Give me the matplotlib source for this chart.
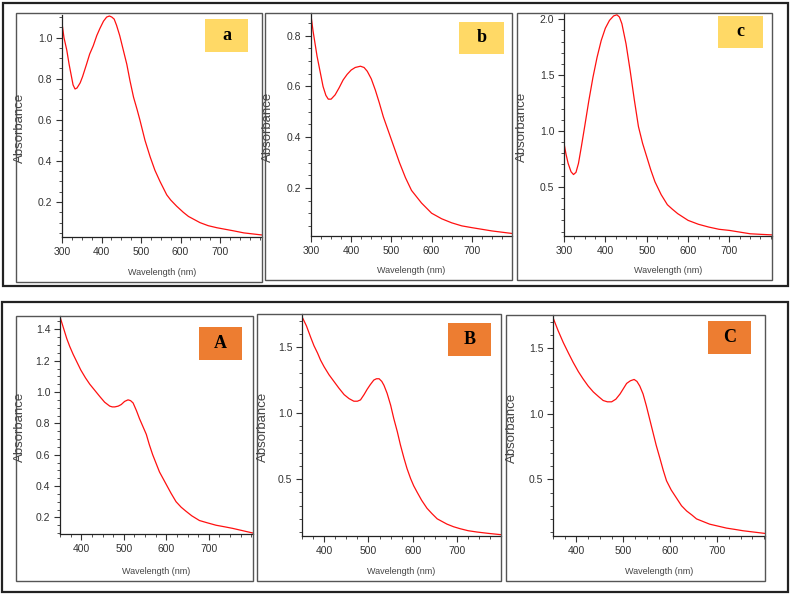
import numpy as np
import matplotlib.pyplot as plt
from matplotlib.patches import Rectangle
from matplotlib.ticker import MultipleLocator

# Data
wl_a = [300, 305, 312, 318, 324, 328, 333, 338, 346, 352, 362, 370, 379, 388, 396, 405, 413, 420, 426, 432,
        438, 446, 455, 464, 472, 481, 490, 497, 510, 523, 535, 548, 565, 575, 590, 607, 620, 649, 670, 692,
        734, 760, 805]
abs_a = [1.07, 1.00, 0.94, 0.87, 0.81, 0.77, 0.75, 0.755, 0.78, 0.81, 0.87, 0.92, 0.96, 1.01, 1.045, 1.08,
         1.10, 1.105, 1.10, 1.09, 1.06, 1.01, 0.94, 0.87, 0.79, 0.71, 0.65, 0.60, 0.50, 0.42, 0.355, 0.30,
         0.235, 0.21, 0.18, 0.15, 0.13, 0.10, 0.085, 0.075, 0.06, 0.05, 0.04]

wl_b = [300, 305, 310, 315, 320, 330, 337, 343, 350, 360, 370, 380, 390, 400, 410, 423, 432, 440, 450, 460,
        470, 480, 490, 500, 510, 520, 535, 550, 575, 600, 625, 650, 675, 700, 750, 800]
abs_b = [0.88, 0.82, 0.77, 0.72, 0.68, 0.60, 0.565, 0.55, 0.55, 0.567, 0.595, 0.626, 0.648, 0.665, 0.675,
         0.68, 0.675, 0.66, 0.63, 0.586, 0.535, 0.48, 0.435, 0.39, 0.345, 0.30, 0.24, 0.19, 0.14, 0.10,
         0.078, 0.062, 0.05, 0.043, 0.03, 0.02]

wl_c = [300, 305, 310, 317, 323, 329, 335, 342, 350, 360, 370, 380, 390, 400, 410, 420, 428, 434, 440, 450,
        460, 470, 480, 490, 500, 510, 520, 535, 550, 562, 575, 600, 625, 650, 675, 700, 725, 750, 775, 803]
abs_c = [0.89, 0.79, 0.71, 0.635, 0.61, 0.63, 0.71, 0.86, 1.04, 1.27, 1.48, 1.66, 1.81, 1.92, 1.99, 2.03,
         2.04, 2.02, 1.96, 1.78, 1.54, 1.28, 1.04, 0.89, 0.77, 0.65, 0.545, 0.43, 0.34, 0.30, 0.26, 0.20,
         0.165, 0.14, 0.12, 0.11, 0.095, 0.08, 0.075, 0.07]

wl_A = [350, 358, 366, 373, 381, 390, 399, 410, 420, 432, 444, 455, 467, 473, 479, 487, 494, 502, 510, 516,
        522, 530, 537, 545, 553, 560, 568, 576, 584, 592, 600, 611, 623, 635, 646, 660, 678, 697, 717, 737,
        756, 780, 804]
abs_A = [1.48, 1.41, 1.34, 1.29, 1.24, 1.19, 1.14, 1.09, 1.05, 1.01, 0.97, 0.935, 0.91, 0.905, 0.905, 0.91,
         0.92, 0.94, 0.95, 0.945, 0.93, 0.88, 0.83, 0.78, 0.73, 0.665, 0.60, 0.545, 0.49, 0.45, 0.41, 0.355,
         0.30, 0.265, 0.24, 0.21, 0.18, 0.165, 0.15, 0.14, 0.13, 0.115, 0.10]

wl_B = [350, 360, 370, 377, 385, 392, 400, 411, 422, 433, 445, 456, 467, 475, 482, 490, 497, 504, 512, 518,
        524, 530, 535, 542, 550, 557, 565, 572, 580, 587, 595, 602, 610, 620, 632, 643, 655, 666, 677, 692,
        707, 725, 745, 770, 799]
abs_B = [1.73, 1.66, 1.57, 1.51, 1.455, 1.40, 1.35, 1.29, 1.24, 1.19, 1.14, 1.11, 1.09, 1.09, 1.10, 1.14,
         1.18, 1.215, 1.25, 1.26, 1.26, 1.24, 1.21, 1.15, 1.06, 0.96, 0.86, 0.76, 0.66, 0.58, 0.505, 0.45,
         0.40, 0.34, 0.28, 0.24, 0.20, 0.18, 0.16, 0.14, 0.125, 0.11, 0.10, 0.09, 0.08]

wl_C = [350, 361, 372, 383, 393, 404, 414, 425, 436, 447, 457, 466, 475, 484, 493, 500, 507, 515, 523, 529,
        535, 542, 549, 556, 563, 570, 578, 585, 592, 602, 613, 624, 635, 646, 656, 670, 684, 702, 720, 738,
        755, 778, 801]
abs_C = [1.73, 1.63, 1.54, 1.46, 1.39, 1.32, 1.265, 1.21, 1.165, 1.13, 1.10, 1.09, 1.09, 1.11, 1.15, 1.19,
         1.23, 1.25, 1.26, 1.245, 1.21, 1.15, 1.06, 0.96, 0.86, 0.76, 0.66, 0.57, 0.49, 0.42, 0.36, 0.30,
         0.26, 0.23, 0.20, 0.18, 0.16, 0.145, 0.13, 0.12, 0.11, 0.10, 0.09]

panel_letters = ['a', 'b', 'c', 'A', 'B', 'C']

W, H = 791, 595
fig = plt.figure(figsize=(W / 100, H / 100), dpi=100)
fig.patch.set_facecolor('white')

narrow = ['Liberation Sans Narrow', 'Liberation Sans', 'DejaVu Sans']


def frac(x0, y0, x1, y1):
    return [x0 / W, 1 - y1 / H, (x1 - x0) / W, (y1 - y0) / H]


def box(x0, y0, x1, y1, ec, lw, fc='none', z=0):
    l, b, w, h = frac(x0, y0, x1, y1)
    fig.add_artist(Rectangle((l, b), w, h, transform=fig.transFigure,
                             facecolor=fc, edgecolor=ec, linewidth=lw, zorder=z))


# outer group frames
box(3, 3, 788, 286, '#222222', 1.6)
box(2, 302, 788, 592, '#222222', 1.6)

# panel: (frame, axes, xlim, ylim, ymajor, yminor, xticks, label box, label colour, ylabel x, data)
panels = [
    ((16, 13, 262, 282), (62, 15, 262, 237), (300, 806), (0.03, 1.11), 0.2, 0.05,
     [300, 400, 500, 600, 700], (205, 19, 248, 52), '#FFD966', 20, wl_a, abs_a),
    ((265, 13, 512, 280), (311, 13, 512, 236), (300, 800), (0.01, 0.89), 0.2, 0.05,
     [300, 400, 500, 600, 700], (459, 22, 504, 54), '#FFD966', 268, wl_b, abs_b),
    ((517, 13, 772, 280), (564, 13, 772, 236), (300, 803), (0.06, 2.056), 0.5, 0.1,
     [300, 400, 500, 600, 700], (718, 16, 763, 48), '#FFD966', 522, wl_c, abs_c),
    ((16, 316, 253, 581), (60, 316, 253, 534), (350, 804), (0.094, 1.485), 0.2, 0.05,
     [400, 500, 600, 700], (199, 327, 242, 360), '#ED7D31', 20, wl_A, abs_A),
    ((257, 314, 501, 581), (302, 314, 501, 536), (350, 799), (0.07, 1.75), 0.5, 0.1,
     [400, 500, 600, 700], (448, 323, 491, 356), '#ED7D31', 263, wl_B, abs_B),
    ((506, 315, 765, 581), (553, 315, 765, 536), (350, 802), (0.07, 1.75), 0.5, 0.1,
     [400, 500, 600, 700], (708, 321, 751, 354), '#ED7D31', 512, wl_C, abs_C),
]

for letter, p in zip(panel_letters, panels):
    frame, axbox, xl, yl, ymaj, ymin, xt, lbox, lcol, ylx, xs, ys = p
    box(*frame, '#555555', 1.0, z=3)
    ax = fig.add_axes(frac(*axbox))
    ax.plot(xs, ys, color='#FF1010', linewidth=0.9)
    ax.set_xlim(*xl)
    ax.set_ylim(*yl)
    ax.set_xticks(xt)
    ax.xaxis.set_minor_locator(MultipleLocator(25))
    ax.yaxis.set_major_locator(MultipleLocator(ymaj))
    ax.yaxis.set_minor_locator(MultipleLocator(ymin))
    ax.yaxis.set_major_formatter(plt.FuncFormatter(lambda v, pos: '%.1f' % v))
    for s in ['top', 'right']:
        ax.spines[s].set_visible(False)
    for s in ['left', 'bottom']:
        ax.spines[s].set_linewidth(0.9)
        ax.spines[s].set_color('#222222')
    ax.tick_params(which='major', length=4, width=0.8, color='#333333',
                   labelsize=7.5, labelcolor='#333333', pad=3)
    ax.tick_params(which='minor', length=2, width=0.6, color='#333333')
    for t in ax.get_xticklabels() + ax.get_yticklabels():
        t.set_family(narrow)
    ax.patch.set_alpha(0)

    # axis titles
    fx0, fy0, fx1, fy1 = frame
    ax_x0, ax_y0, ax_x1, ax_y1 = axbox
    fig.text(ylx / W, 1 - ((ax_y0 + ax_y1) / 2 + 2) / H, 'Absorbance', rotation=90,
             ha='center', va='center', fontsize=9.5, color='#444444', family=narrow)
    fig.text((ax_x0 + ax_x1) / 2 / W, 1 - (fy1 - 9) / H, 'Wavelength (nm)',
             ha='center', va='center', fontsize=6.5, color='#444444', family=narrow)

    # letter tag
    box(*lbox, 'none', 0, fc=lcol, z=4)
    lx0, ly0, lx1, ly1 = lbox
    fig.text((lx0 + lx1) / 2 / W, 1 - (ly0 + ly1) / 2 / H, letter, ha='center', va='center',
             fontsize=13, fontweight='bold', family=['Liberation Serif', 'DejaVu Serif'],
             color='black', zorder=5)

fig.savefig('out.png', dpi=100)
